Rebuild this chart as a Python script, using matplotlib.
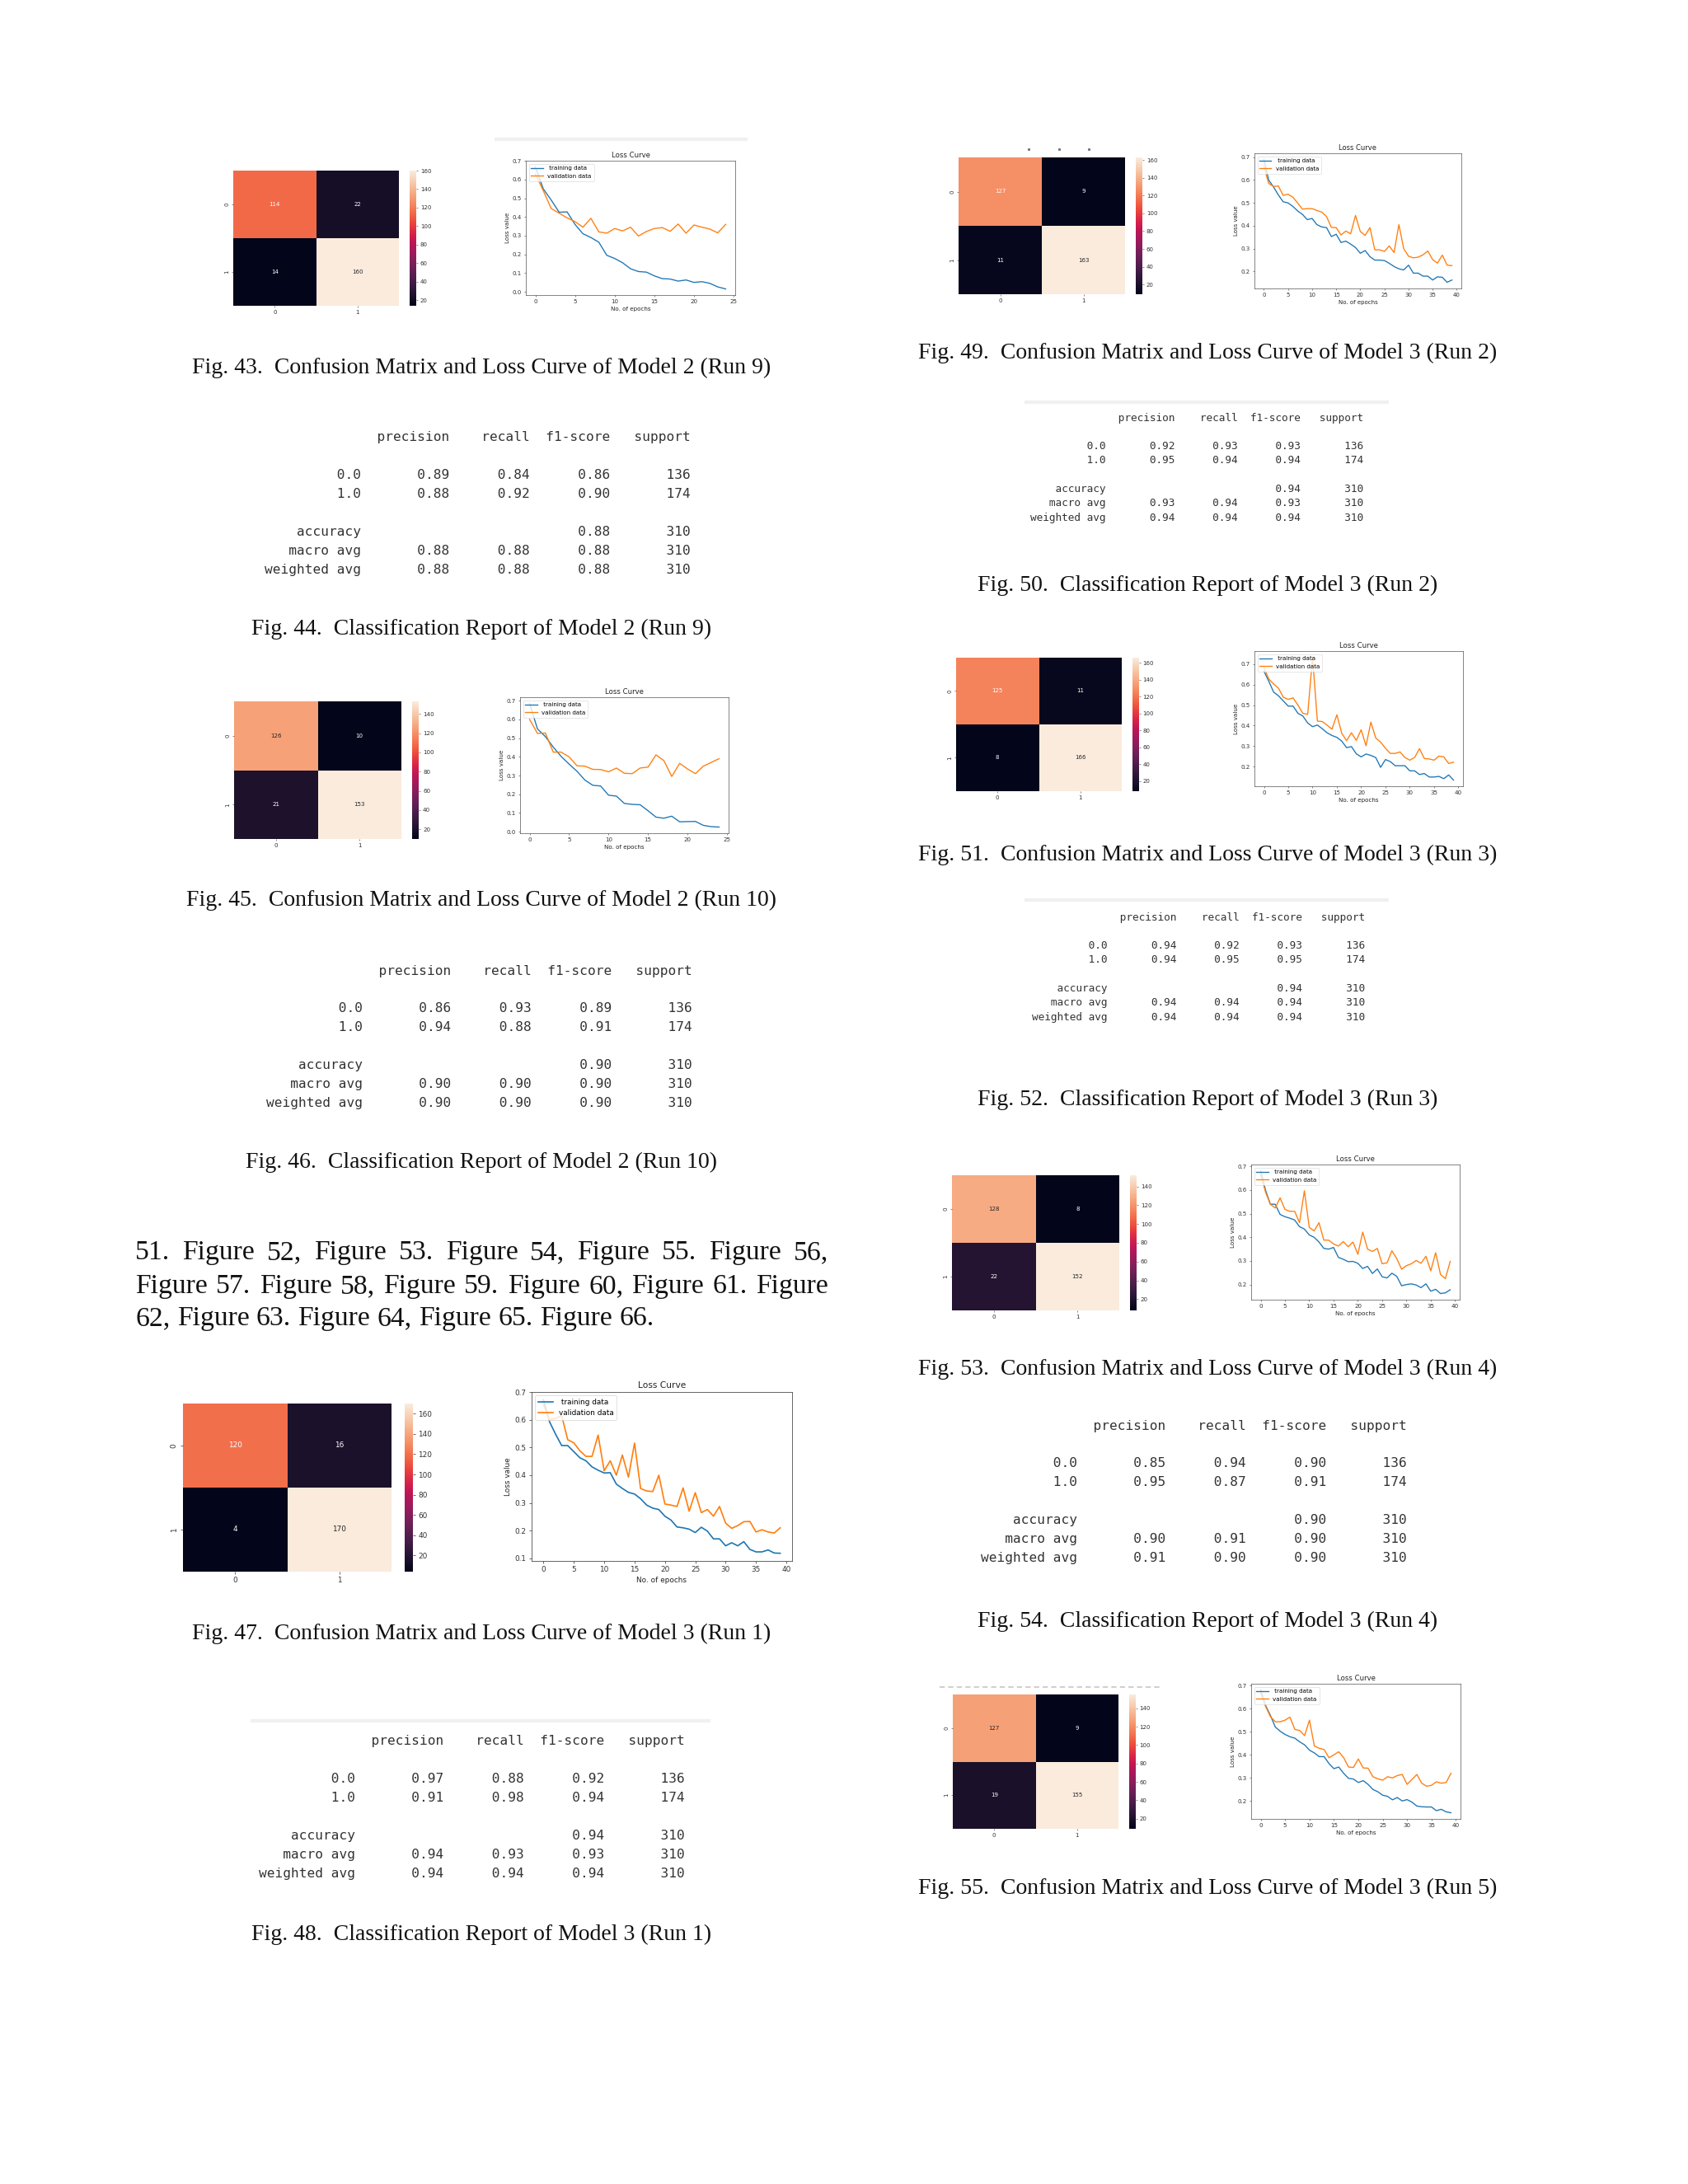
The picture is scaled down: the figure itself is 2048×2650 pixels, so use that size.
import numpy as np
import matplotlib
matplotlib.use("Agg")
import matplotlib.pyplot as plt
import seaborn as sns

# ---------------- data ----------------
# confusion matrices
cm_43 = [[114, 22], [14, 160]]
cm_45 = [[126, 10], [21, 153]]
cm_47 = [[120, 16], [4, 170]]
cm_49 = [[127, 9], [11, 163]]
cm_51 = [[125, 11], [8, 166]]
cm_53 = [[128, 8], [22, 152]]
cm_55 = [[127, 9], [19, 155]]

# loss curves (one value per epoch)
train_43 = [0.667, 0.55, 0.49, 0.425, 0.427, 0.36, 0.31, 0.29, 0.265, 0.195, 0.178, 0.155, 0.123,
            0.108, 0.105, 0.085, 0.07, 0.068, 0.057, 0.063, 0.05, 0.054, 0.045, 0.026, 0.015]
val_43 = [0.63, 0.54, 0.445, 0.42, 0.395, 0.375, 0.345, 0.393, 0.32, 0.313, 0.338, 0.325, 0.345,
          0.298, 0.322, 0.338, 0.343, 0.323, 0.362, 0.313, 0.357, 0.345, 0.335, 0.315, 0.36]

train_45 = [0.685, 0.549, 0.508, 0.452, 0.402, 0.361, 0.323, 0.276, 0.248, 0.244, 0.195, 0.19, 0.151,
            0.146, 0.144, 0.112, 0.078, 0.072, 0.083, 0.053, 0.054, 0.055, 0.034, 0.027, 0.025]
val_45 = [0.60, 0.525, 0.527, 0.425, 0.425, 0.40, 0.352, 0.35, 0.333, 0.332, 0.32, 0.34, 0.312,
          0.31, 0.34, 0.345, 0.41, 0.38, 0.295, 0.365, 0.335, 0.31, 0.35, 0.37, 0.39]

train_47 = [0.672, 0.593, 0.548, 0.507, 0.507, 0.485, 0.463, 0.452, 0.43, 0.418, 0.408, 0.409, 0.368,
            0.352, 0.338, 0.332, 0.315, 0.292, 0.281, 0.276, 0.252, 0.238, 0.213, 0.21, 0.205, 0.193,
            0.212, 0.198, 0.17, 0.17, 0.145, 0.156, 0.145, 0.16, 0.132, 0.123, 0.123, 0.13, 0.119, 0.118]
val_47 = [0.655, 0.60, 0.605, 0.615, 0.528, 0.517, 0.488, 0.468, 0.468, 0.545, 0.416, 0.452, 0.40,
          0.473, 0.393, 0.516, 0.352, 0.343, 0.341, 0.40, 0.296, 0.292, 0.287, 0.354, 0.27, 0.337,
          0.265, 0.276, 0.252, 0.287, 0.227, 0.208, 0.218, 0.232, 0.233, 0.195, 0.203, 0.195, 0.191, 0.21]

train_49 = [0.69, 0.60, 0.57, 0.535, 0.505, 0.50, 0.485, 0.465, 0.45, 0.427, 0.432, 0.405, 0.395,
            0.392, 0.353, 0.363, 0.327, 0.333, 0.32, 0.305, 0.28, 0.292, 0.265, 0.25, 0.25, 0.248,
            0.236, 0.222, 0.212, 0.207, 0.228, 0.193, 0.193, 0.18, 0.18, 0.163, 0.177, 0.175, 0.153, 0.163]
val_49 = [0.66, 0.585, 0.572, 0.574, 0.533, 0.538, 0.525, 0.50, 0.473, 0.475, 0.475, 0.467, 0.46,
          0.44, 0.393, 0.392, 0.36, 0.377, 0.365, 0.445, 0.375, 0.358, 0.392, 0.295, 0.295, 0.288,
          0.312, 0.283, 0.405, 0.30, 0.267, 0.26, 0.263, 0.273, 0.29, 0.252, 0.237, 0.272, 0.228, 0.226]

train_51 = [0.665, 0.616, 0.563, 0.545, 0.52, 0.495, 0.495, 0.46, 0.447, 0.413, 0.395, 0.403, 0.385,
            0.365, 0.352, 0.343, 0.325, 0.293, 0.298, 0.263, 0.248, 0.262, 0.255, 0.245, 0.197, 0.235,
            0.225, 0.205, 0.205, 0.205, 0.18, 0.18, 0.162, 0.167, 0.15, 0.15, 0.153, 0.142, 0.16, 0.135]
val_51 = [0.683, 0.627, 0.602, 0.582, 0.538, 0.528, 0.535, 0.50, 0.46, 0.455, 0.733, 0.422, 0.42,
          0.402, 0.383, 0.453, 0.363, 0.327, 0.365, 0.328, 0.38, 0.302, 0.417, 0.34, 0.32, 0.29,
          0.265, 0.265, 0.272, 0.245, 0.232, 0.245, 0.288, 0.24, 0.238, 0.232, 0.252, 0.248, 0.216, 0.222]

train_53 = [0.682, 0.60, 0.54, 0.54, 0.497, 0.487, 0.481, 0.473, 0.445, 0.435, 0.41, 0.40, 0.38,
            0.353, 0.35, 0.357, 0.315, 0.307, 0.297, 0.298, 0.29, 0.268, 0.277, 0.247, 0.266, 0.233,
            0.228, 0.248, 0.235, 0.195, 0.2, 0.203, 0.198, 0.187, 0.203, 0.172, 0.18, 0.162, 0.165, 0.178]
val_53 = [0.665, 0.592, 0.54, 0.524, 0.567, 0.518, 0.51, 0.51, 0.462, 0.597, 0.442, 0.427, 0.462,
          0.388, 0.388, 0.372, 0.363, 0.382, 0.36, 0.38, 0.328, 0.422, 0.35, 0.34, 0.353, 0.288,
          0.292, 0.343, 0.31, 0.265, 0.28, 0.288, 0.302, 0.29, 0.32, 0.258, 0.335, 0.243, 0.225, 0.298]

train_55 = [0.681, 0.614, 0.57, 0.52, 0.502, 0.488, 0.478, 0.472, 0.456, 0.443, 0.42, 0.408, 0.392,
            0.392, 0.362, 0.34, 0.347, 0.32, 0.298, 0.295, 0.28, 0.288, 0.272, 0.25, 0.24, 0.225,
            0.22, 0.205, 0.215, 0.2, 0.206, 0.195, 0.178, 0.175, 0.174, 0.174, 0.158, 0.164, 0.153, 0.149]
val_55 = [0.665, 0.61, 0.565, 0.543, 0.543, 0.55, 0.563, 0.51, 0.505, 0.483, 0.55, 0.438, 0.428,
          0.423, 0.387, 0.40, 0.413, 0.388, 0.347, 0.345, 0.382, 0.343, 0.342, 0.305, 0.296, 0.29,
          0.305, 0.3, 0.31, 0.315, 0.272, 0.293, 0.315, 0.277, 0.264, 0.268, 0.283, 0.277, 0.28, 0.32]

# classification reports: [0.0, 1.0, macro avg, weighted avg]
class_labels = ["0.0", "1.0"]
support = [136, 174]

prec_44, rec_44, f1_44, acc_44 = [0.89, 0.88, 0.88, 0.88], [0.84, 0.92, 0.88, 0.88], [0.86, 0.90, 0.88, 0.88], 0.88
prec_46, rec_46, f1_46, acc_46 = [0.86, 0.94, 0.90, 0.90], [0.93, 0.88, 0.90, 0.90], [0.89, 0.91, 0.90, 0.90], 0.90
prec_48, rec_48, f1_48, acc_48 = [0.97, 0.91, 0.94, 0.94], [0.88, 0.98, 0.93, 0.94], [0.92, 0.94, 0.93, 0.94], 0.94
prec_50, rec_50, f1_50, acc_50 = [0.92, 0.95, 0.93, 0.94], [0.93, 0.94, 0.94, 0.94], [0.93, 0.94, 0.93, 0.94], 0.94
prec_52, rec_52, f1_52, acc_52 = [0.94, 0.94, 0.94, 0.94], [0.92, 0.95, 0.94, 0.94], [0.93, 0.95, 0.94, 0.94], 0.94
prec_54, rec_54, f1_54, acc_54 = [0.85, 0.95, 0.90, 0.91], [0.94, 0.87, 0.91, 0.90], [0.90, 0.91, 0.90, 0.90], 0.90

paragraph = ["51. Figure 52, Figure 53. Figure 54, Figure 55. Figure 56,",
             "Figure 57. Figure 58, Figure 59. Figure 60, Figure 61. Figure",
             "62, Figure 63. Figure 64, Figure 65. Figure 66."]

# ---------------- page setup (1 data unit = 1 output pixel) ----------------
W, H = 2048, 2650
fig = plt.figure(figsize=(W / 100, H / 100), dpi=100)
fig.patch.set_facecolor("white")

page = fig.add_axes([0, 0, 1, 1])
page.set_xlim(0, W)
page.set_ylim(H, 0)
page.axis("off")


def box_axes(x0, y0, x1, y1):
    return fig.add_axes([x0 / W, 1 - y1 / H, (x1 - x0) / W, (y1 - y0) / H])


def draw_cm(cm, x0, y0, x1, y1):
    s = (x1 - x0) / 397
    ax = box_axes(x0, y0, x1, y1)
    gap = 0.0627 * (x1 - x0)
    cax = box_axes(x1 + gap, y0, x1 + gap + (y1 - y0) / 20, y1)
    sns.heatmap(np.array(cm), annot=True, fmt="d", cmap="rocket", ax=ax, cbar_ax=cax,
                annot_kws={"fontsize": 10 * s})
    ax.tick_params(labelsize=10 * s, length=3.5 * s, width=0.8 * s, pad=3.5 * s, colors="#333333")
    ax.set_yticklabels(["0", "1"], rotation=90, va="center")
    cax.tick_params(labelsize=10 * s, length=3.5 * s, width=0.8 * s, pad=3.5 * s, colors="#333333")


def draw_loss(train, val, x0, y0, x1, y1):
    s = (x1 - x0) / 496
    ax = box_axes(x0, y0, x1, y1)
    ep = np.arange(len(train))
    ax.plot(ep, train, color="#1f77b4", lw=1.9 * s, label=" training data")
    ax.plot(ep, val, color="#ff7f0e", lw=1.9 * s, label="validation data")
    lo, hi = ax.get_ylim()
    ax.set_ylim(lo, max(hi, 0.7005))
    ax.set_title("Loss Curve", fontsize=12 * s, pad=6 * s, color="#222222")
    ax.set_xlabel("No. of epochs", fontsize=10 * s, labelpad=4 * s, color="#222222")
    ax.set_ylabel("Loss value", fontsize=10 * s, labelpad=4 * s, color="#222222")
    ax.tick_params(labelsize=10 * s, length=3.5 * s, width=0.8 * s, pad=3.5 * s, colors="#333333")
    for sp in ax.spines.values():
        sp.set_linewidth(0.9 * s)
        sp.set_color("#444444")
    leg = ax.legend(loc="upper left", fontsize=10 * s)
    leg.get_frame().set_linewidth(0.8 * s)


def report_lines(prec, rec, f1, acc):
    total = sum(support)
    out = [" " * 13 + "".join(" {:>9}".format(h) for h in ["precision", "recall", "f1-score", "support"]), ""]
    for i, lab in enumerate(class_labels):
        out.append("{:>12} ".format(lab)
                   + "".join(" {:>9.2f}".format(v) for v in (prec[i], rec[i], f1[i]))
                   + " {:>9}".format(support[i]))
    out.append("")
    out.append("{:>12} ".format("accuracy") + " {:>9} {:>9}".format("", "")
               + " {:>9.2f}".format(acc) + " {:>9}".format(total))
    for j, lab in zip((2, 3), ("macro avg", "weighted avg")):
        out.append("{:>12} ".format(lab)
                   + "".join(" {:>9.2f}".format(v) for v in (prec[j], rec[j], f1[j]))
                   + " {:>9}".format(total))
    return out


def draw_report(prec, rec, f1, acc, x0, y0, char_w, dy):
    fs = char_w / 0.602 * 0.72
    for i, line in enumerate(report_lines(prec, rec, f1, acc)):
        page.text(x0, y0 + i * dy, line, family="DejaVu Sans Mono", fontsize=fs,
                  color="#333333", ha="left", va="center")


def caption(text, xc, yc):
    page.text(xc, yc, text, family="Liberation Serif", fontsize=20, color="#111111",
              ha="center", va="center")


# faint screenshot edges
for (xa, xb, yy) in [(600, 907, 169), (304, 862, 2088), (1243, 1685, 488), (1243, 1685, 1092)]:
    page.plot([xa, xb], [yy, yy], color="#f0f0f0", lw=3, solid_capstyle="butt")
page.plot([1140, 1407], [2047, 2047], color="#d0d0d0", lw=1.5, dashes=(3, 2))
page.plot([1248, 1285, 1321], [181, 181, 181], ls="none", marker="s", ms=1.2, color="#777777")

# ---------------- left column ----------------
draw_cm(cm_43, 283, 207, 484, 371)
draw_loss(train_43, val_43, 638, 195, 892, 358)
caption("Fig. 43.  Confusion Matrix and Loss Curve of Model 2 (Run 9)", 584, 446)

draw_report(prec_44, rec_44, f1_44, acc_44, 321, 531, 9.685, 22.9)
caption("Fig. 44.  Classification Report of Model 2 (Run 9)", 584, 763)

draw_cm(cm_45, 284, 851, 487, 1018)
draw_loss(train_45, val_45, 631, 846, 884, 1011)
caption("Fig. 45.  Confusion Matrix and Loss Curve of Model 2 (Run 10)", 584, 1092)

draw_report(prec_46, rec_46, f1_46, acc_46, 323, 1178, 9.685, 22.9)
caption("Fig. 46.  Classification Report of Model 2 (Run 10)", 584, 1410)

draw_cm(cm_47, 222, 1703, 475, 1907)
draw_loss(train_47, val_47, 645, 1689, 961, 1894)
caption("Fig. 47.  Confusion Matrix and Loss Curve of Model 3 (Run 1)", 584, 1982)

draw_report(prec_48, rec_48, f1_48, acc_48, 314, 2113, 9.685, 22.9)
caption("Fig. 48.  Classification Report of Model 3 (Run 1)", 584, 2347)

# ---------------- right column ----------------
draw_cm(cm_49, 1163, 191, 1365, 357)
draw_loss(train_49, val_49, 1522, 186, 1773, 350)
caption("Fig. 49.  Confusion Matrix and Loss Curve of Model 3 (Run 2)", 1465, 428)

draw_report(prec_50, rec_50, f1_50, acc_50, 1250, 507, 7.72, 17.3)
caption("Fig. 50.  Classification Report of Model 3 (Run 2)", 1465, 710)

draw_cm(cm_51, 1160, 798, 1361, 960)
draw_loss(train_51, val_51, 1522, 790, 1775, 954)
caption("Fig. 51.  Confusion Matrix and Loss Curve of Model 3 (Run 3)", 1465, 1037)

draw_report(prec_52, rec_52, f1_52, acc_52, 1252, 1113, 7.72, 17.3)
caption("Fig. 52.  Classification Report of Model 3 (Run 3)", 1465, 1334)

draw_cm(cm_53, 1155, 1426, 1358, 1590)
draw_loss(train_53, val_53, 1518, 1413, 1771, 1577)
caption("Fig. 53.  Confusion Matrix and Loss Curve of Model 3 (Run 4)", 1465, 1661)

draw_report(prec_54, rec_54, f1_54, acc_54, 1190, 1730, 9.685, 22.9)
caption("Fig. 54.  Classification Report of Model 3 (Run 4)", 1465, 1967)

draw_cm(cm_55, 1156, 2056, 1357, 2219)
draw_loss(train_55, val_55, 1518, 2043, 1772, 2207)
caption("Fig. 55.  Confusion Matrix and Loss Curve of Model 3 (Run 5)", 1465, 2291)

# ---------------- justified body text ----------------
renderer = fig.canvas.get_renderer()
x_left, x_right = 164, 1005
line_y = [1520, 1561, 1600]
for k, line in enumerate(paragraph):
    words = line.split()
    items = [page.text(0, line_y[k], w, family="Liberation Serif", fontsize=24.2,
                       color="#111111", ha="left", va="center") for w in words]
    widths = [t.get_window_extent(renderer).width for t in items]
    if k < len(paragraph) - 1:
        gap = (x_right - x_left - sum(widths)) / (len(words) - 1)
    else:
        gap = 0.25 * 24.2 / 0.72
    pos = x_left
    for t, w in zip(items, widths):
        t.set_x(pos)
        pos += w + gap

fig.savefig("out.png", dpi=100, facecolor="white")
